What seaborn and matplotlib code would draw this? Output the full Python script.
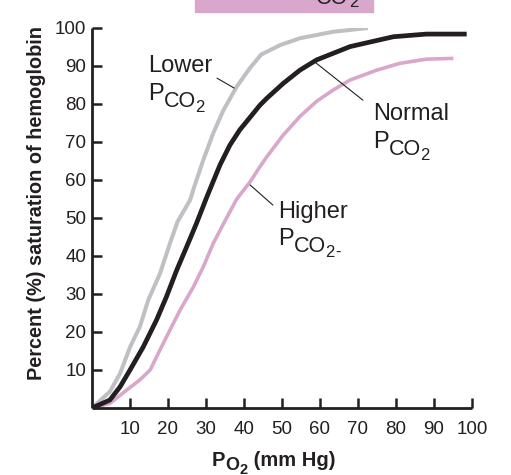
import matplotlib
matplotlib.use("Agg")
import matplotlib.pyplot as plt
import matplotlib.transforms as mtransforms
import seaborn as sns
import pandas as pd
from matplotlib.patches import Rectangle

# Oxygen-hemoglobin dissociation curves at three CO2 levels
lower_po2 = [0, 4.7, 7.4, 10, 12.6, 14.8, 17.9, 20.5, 22.5, 25.8, 27, 29.3, 31.9, 34.6, 38.1, 41.6, 44.5, 49.5, 54.7, 63.4, 72.6]
lower_sat = [0, 4.3, 9.1, 16, 21.4, 28.4, 35.4, 43.3, 49, 54.7, 58.5, 65.3, 72.3, 78.4, 84.6, 89.5, 93, 95.5, 97.3, 99, 100]

normal_po2 = [0, 4.7, 7.4, 10, 13.5, 17, 19.6, 22.3, 24.9, 27.5, 30.2, 33.7, 36.3, 38.9, 41.6, 44.2, 46, 50.3, 54.7, 59.1, 67.9, 79.3, 88, 98.6]
normal_sat = [0, 2.1, 5.6, 10, 16.1, 23.2, 29.3, 36.3, 42.4, 48.6, 55.5, 64, 69.2, 73.2, 76.5, 79.7, 81.5, 85.4, 88.9, 91.6, 95.1, 97.7, 98.4, 98.4]

higher_po2 = [0, 4.7, 9.1, 12.6, 15.3, 17.9, 20.5, 23.2, 26.7, 29.3, 31.9, 34.6, 38.1, 41.6, 44.2, 46, 50.3, 54.7, 59.1, 63.5, 67.9, 74.9, 81, 88, 95.1]
higher_sat = [0, 1.2, 4.7, 7.4, 10, 15.3, 20.5, 25.8, 31.9, 37.2, 43.3, 48.5, 55, 59.5, 63.5, 66.1, 71.8, 76.7, 80.7, 83.7, 86.3, 88.9, 90.7, 91.8, 92]

ticks = [10, 20, 30, 40, 50, 60, 70, 80, 90, 100]

sns.set_theme(style="ticks")
plt.rcParams['font.family'] = ['Liberation Sans', 'DejaVu Sans']

ink = '#231f20'
gray = '#c0c0c4'
pink = '#d9a6cc'

fig = plt.figure(figsize=(5.11, 4.75), dpi=100)
ax = fig.add_axes([92 / 511, 67 / 475, 380 / 511, 380 / 475])
renderer = fig.canvas.get_renderer()

df_lower = pd.DataFrame({'po2': lower_po2, 'sat': lower_sat})
df_normal = pd.DataFrame({'po2': normal_po2, 'sat': normal_sat})
df_higher = pd.DataFrame({'po2': higher_po2, 'sat': higher_sat})

line_kw = dict(ax=ax, sort=False, solid_joinstyle='round', solid_capstyle='butt')
sns.lineplot(data=df_higher, x='po2', y='sat', color=pink, lw=2.6, **line_kw)
sns.lineplot(data=df_lower, x='po2', y='sat', color=gray, lw=2.9, **line_kw)
sns.lineplot(data=df_normal, x='po2', y='sat', color=ink, lw=3.4, **line_kw)

ax.set_xlim(0, 100)
ax.set_ylim(0, 100)
ax.set_xticks(ticks)
ax.set_yticks(ticks)
ax.tick_params(direction='in', length=7, width=1.8, color=ink, labelsize=13.5, labelcolor=ink)
ax.tick_params(axis='x', pad=9)
ax.tick_params(axis='y', pad=4)
for s in ['top', 'right']:
    ax.spines[s].set_visible(False)
for s in ['left', 'bottom']:
    ax.spines[s].set_linewidth(2)
    ax.spines[s].set_color(ink)
    ax.spines[s].set_capstyle('butt')

ax.set_xlabel('')
ax.set_ylabel('Percent (%) saturation of hemoglobin', fontsize=14.3, fontweight='bold', color=ink)
ax.yaxis.set_label_coords(-0.12, 0.54)


def draw_parts(base_tr, x, y, parts, **kw):
    # write text pieces one after another, each with its own size and baseline drop (px)
    dx = 0
    for s, size, drop in parts:
        tr = mtransforms.offset_copy(base_tr, fig=fig, x=dx, y=-drop * 0.72, units='points')
        t = fig.text(x, y, s, fontsize=size, color=ink, transform=tr, va='baseline', **kw)
        dx += t.get_window_extent(renderer).width * 0.72


def pco2(x, y, suffix=''):
    parts = [('P', 17, 0), ('CO', 15.5, 7), ('2', 12, 12)]
    if suffix:
        parts.append((suffix, 12, 12))
    draw_parts(ax.transData, x, y, parts)


# curve labels with leader lines
txt = dict(fontsize=17, color=ink, va='baseline')
ax.text(14.7, 88.4, 'Lower', **txt)
pco2(14.7, 81)
ax.plot([32.9, 37.4], [86.8, 84.2], color=ink, lw=0.8)

ax.text(73.9, 75.8, 'Normal', **txt)
pco2(73.9, 68.4)
ax.plot([58.7, 71.3], [91, 81], color=ink, lw=0.8)

ax.text(48.9, 50, 'Higher', **txt)
pco2(48.9, 42.9, '-')
ax.plot([41.6, 47.6], [58.7, 53.4], color=ink, lw=0.8)

# x axis title: P with subscript O2
draw_parts(fig.transFigure, 212 / 511, 1 - 466 / 475,
           [('P', 14.5, 0), ('O', 13, 3.5), ('2', 10.5, 7.5), (' (mm Hg)', 14.5, 0)],
           fontweight='bold')

# pink banner cut off at the top edge
fig.patches.append(Rectangle((195 / 511, 1 - 12 / 475), 178 / 511, 12 / 475,
                             transform=fig.transFigure, color=pink, zorder=0))
fig.text(348 / 511, 1 - 4 / 475, 'CO', fontsize=15.5, color=ink, ha='right', va='baseline')
fig.text(349 / 511, 1 - 7 / 475, '2', fontsize=12, color=ink, ha='left', va='baseline')

fig.savefig('out.png', dpi=100)
